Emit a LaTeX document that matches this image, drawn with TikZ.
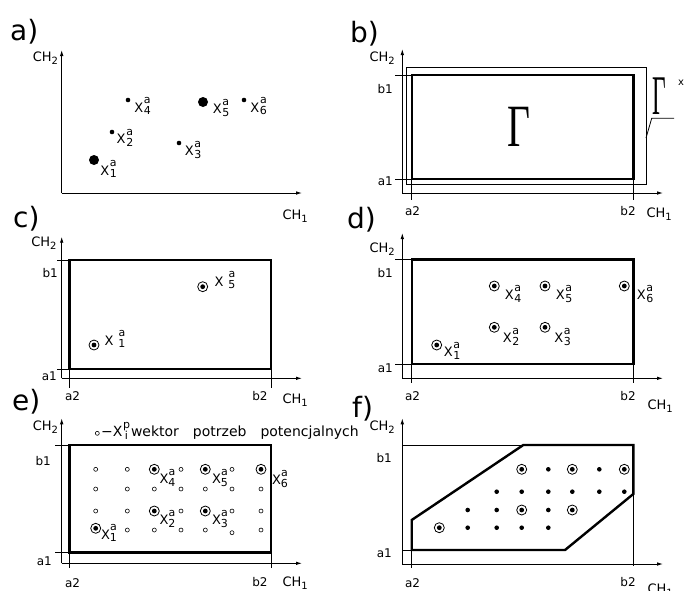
\documentclass[tikz,border=0pt]{standalone}
\usepackage{fontspec}
\setmainfont{DejaVu Sans}
\newfontfamily\grfont{Liberation Serif}
\usetikzlibrary{arrows.meta}
\newcommand{\lowsub}[1]{\raisebox{-3pt}{\fontsize{10}{10}\selectfont #1}}
\newcommand{\stk}[2]{\raisebox{2pt}{\fontsize{11}{9}\selectfont\begin{tabular}{@{}c@{}}#1\\#2\end{tabular}}}
\newcommand{\xa}[2][0.6pt]{X\kern#1\stk{a}{#2}}
\begin{document}
\begin{tikzpicture}[x=1pt,y=-1pt,
  txt/.style={font=\fontsize{13}{13}\selectfont, inner sep=0},
  small/.style={font=\fontsize{12}{12}\selectfont, inner sep=0},
  plab/.style={font=\fontsize{28}{28}\selectfont, inner sep=0, anchor=base west},
  axis/.style={line width=0.9pt, -{Latex[length=6pt,width=3.6pt]}},
  thinl/.style={line width=0.8pt},
  thickl/.style={line width=2.4pt},
  bigdot/.style={circle, fill=black, inner sep=0, minimum size=10pt},
  smalldot/.style={circle, fill=black, inner sep=0, minimum size=4.6pt},
  cdot/.style={circle, draw, line width=0.8pt, inner sep=0, minimum size=10pt,
    path picture={\fill[black] (path picture bounding box.center) circle (2.4pt);}},
  pdot/.style={circle, draw, line width=0.6pt, inner sep=0, minimum size=4pt},
]
\useasboundingbox (0,0) rectangle (684,590);

% ---------- a ----------
\node[plab] (aL) at (10,40) {a)};
\coordinate (aO) at (61.7,193);
\coordinate (aY) at (61.7,50);
\coordinate (aX) at (302,193);
\draw[axis] (aO) -- (aY);
\draw[axis] (aO) -- (aX);
\node[txt, anchor=base east] (aCH2) at (58.3,61.7) {CH\lowsub{2}};
\node[txt, anchor=base east] (aCH1) at (308,219) {CH\lowsub{1}};
\node[bigdot] (aP1) at (94,160) {};
\node[smalldot] (aP2) at (112,132) {};
\node[smalldot] (aP3) at (179,143) {};
\node[smalldot] (aP4) at (128,100) {};
\node[bigdot] (aP5) at (203,102) {};
\node[smalldot] (aP6) at (244,100) {};
\node[txt] (aT1) at (108.5,170.5) {\xa{1}};
\node[txt] (aT2) at (125,139) {\xa{2}};
\node[txt] (aT3) at (193,151) {\xa{3}};
\node[txt] (aT4) at (142.5,107.5) {\xa{4}};
\node[txt] (aT5) at (221,109) {\xa{5}};
\node[txt] (aT6) at (258.7,107.5) {\xa{6}};

% ---------- b ----------
\node[plab] (bL) at (350,42) {b)};
\coordinate (bO) at (402.3,193);
\coordinate (bY) at (402.3,49);
\coordinate (bX) at (663,193);
\draw[axis] (bO) -- (bY);
\draw[axis] (bO) -- (bX);
\node[txt, anchor=base east] (bCH2) at (395,61.5) {CH\lowsub{2}};
\node[txt, anchor=base east] (bCH1) at (672,217) {CH\lowsub{1}};
\draw[thinl] (406.7,67.7) rectangle (646,184);
\draw[thinl] (395,75) -- (411.7,75);
\draw[thinl] (395,179) -- (411.7,179);
\draw[thinl] (411.7,179) -- (411.7,200);
\draw[thinl] (633.3,179) -- (633.3,200);
\draw[thickl] (411.7,75) rectangle (633.3,179);
\node[small, anchor=base east] (bb1) at (393,93) {b1};
\node[small, anchor=base east] (ba1) at (393,185) {a1};
\node[small, anchor=base] (ba2) at (412.5,215) {a2};
\node[small, anchor=base] (bb2) at (628,215) {b2};
\node[inner sep=0] (bG) at (518.5,127) {\grfont\fontsize{60}{60}\selectfont\scalebox{0.66}[1]{Γ}};
\node[inner sep=0] (bGx) at (659.5,96.5) {\grfont\fontsize{56}{56}\selectfont\scalebox{0.42}[1]{Γ}};
\node[inner sep=0, font=\fontsize{10}{10}\selectfont] (bGs) at (681,83) {x};
\coordinate (bg1) at (674,118.3);
\coordinate (bg2) at (651.7,118.3);
\coordinate (bg3) at (646,138);
\draw[thinl] (bg1) -- (bg2) -- (bg3);

% ---------- c ----------
\node[plab] (cL) at (13,227) {c)};
\coordinate (cO) at (61.7,378.3);
\coordinate (cY) at (61.7,236.7);
\coordinate (cX) at (302,378.3);
\draw[axis] (cO) -- (cY);
\draw[axis] (cO) -- (cX);
\node[txt, anchor=base east] (cCH2) at (56.7,246) {CH\lowsub{2}};
\node[txt, anchor=base east] (cCH1) at (308,403) {CH\lowsub{1}};
\draw[thinl] (57,260) -- (69.3,260);
\draw[thinl] (57,369) -- (69.3,369);
\draw[thinl] (69.3,369) -- (69.3,388);
\draw[thinl] (271,369) -- (271,388);
\draw[thickl] (69.3,260) rectangle (271,369);
\node[small, anchor=base east] (cb1) at (58,277) {b1};
\node[small, anchor=base east] (ca1) at (57,380) {a1};
\node[small, anchor=base] (ca2) at (72.5,400) {a2};
\node[small, anchor=base] (cb2) at (260,400) {b2};
\node[cdot] (cP5) at (202.7,286.7) {};
\node[cdot] (cP1) at (94,345) {};
\node[txt] (cT5) at (225,281.5) {\xa[5pt]{5}};
\node[txt] (cT1) at (115,340.5) {\xa[5pt]{1}};

% ---------- d ----------
\node[plab] (dL) at (347,228) {d)};
\coordinate (dO) at (402.3,378.3);
\coordinate (dY) at (402.3,233);
\coordinate (dX) at (663,378.3);
\draw[axis] (dO) -- (dY);
\draw[axis] (dO) -- (dX);
\node[txt, anchor=base east] (dCH2) at (395,252.3) {CH\lowsub{2}};
\node[txt, anchor=base east] (dCH1) at (673,409) {CH\lowsub{1}};
\draw[thinl] (395,259.3) -- (411.7,259.3);
\draw[thinl] (395,364) -- (411.7,364);
\draw[thinl] (411.7,364) -- (411.7,383);
\draw[thinl] (633.3,364) -- (633.3,383);
\draw[thickl] (411.7,259.3) rectangle (633.3,364);
\node[small, anchor=base east] (db1) at (393,277) {b1};
\node[small, anchor=base east] (da1) at (393,372) {a1};
\node[small, anchor=base] (da2) at (412.5,400) {a2};
\node[small, anchor=base] (db2) at (628,400) {b2};
\node[cdot] (dP1) at (436.7,345) {};
\node[cdot] (dP2) at (494.3,327.3) {};
\node[cdot] (dP3) at (545,327.3) {};
\node[cdot] (dP4) at (494.3,286) {};
\node[cdot] (dP5) at (545,286) {};
\node[cdot] (dP6) at (624.3,286) {};
\node[txt] (dT1) at (452,352) {\xa{1}};
\node[txt] (dT2) at (511,338) {\xa{2}};
\node[txt] (dT3) at (562.5,338) {\xa{3}};
\node[txt] (dT4) at (513,295) {\xa{4}};
\node[txt] (dT5) at (564,295) {\xa{5}};
\node[txt] (dT6) at (645,295) {\xa{6}};

% ---------- e ----------
\node[plab] (eL) at (12,410) {e)};
\coordinate (eO) at (61.7,563.3);
\coordinate (eY) at (61.7,418.3);
\coordinate (eX) at (302,563.3);
\draw[axis] (eO) -- (eY);
\draw[axis] (eO) -- (eX);
\node[txt, anchor=base east] (eCH2) at (58.3,430) {CH\lowsub{2}};
\node[txt, anchor=base east] (eCH1) at (308,586) {CH\lowsub{1}};
\draw[thinl] (55,445) -- (69.3,445);
\draw[thinl] (55,552.3) -- (69.3,552.3);
\draw[thinl] (69.3,552.3) -- (69.3,568);
\draw[thinl] (271,552.3) -- (271,568);
\draw[thickl] (69.3,445) rectangle (271,552.3);
\node[small, anchor=base east] (eb1) at (51,465) {b1};
\node[small, anchor=base east] (ea1) at (52,565) {a1};
\node[small, anchor=base] (ea2) at (72.5,587) {a2};
\node[small, anchor=base] (eb2) at (260,586) {b2};
\node[pdot] (eLc) at (97.3,433.3) {};
\node[inner sep=0, anchor=base west, font=\fontsize{14}{14}\selectfont] (eLt) at (101,436.7)
  {−X\kern0.5pt\stk{p}{i}\kern1pt wektor\hspace{14pt}potrzeb\hspace{14pt}potencjalnych};
\foreach \px/\py [count=\i] in {95.7/469.3,127.3/469.3,181/469.3,232/469.3,
  95.7/489,127.3/489,154.3/489,181/489,205.3/489,232/489,261/489,
  95.7/511,127.3/511,181/511,232/511,261/511,
  127.3/530,154.3/530,181/530,205.3/530,232/532.7,261/530}
  \node[pdot] (ep\i) at (\px,\py) {};
\node[cdot] (eP1) at (95.7,528.3) {};
\node[cdot] (eP2) at (154.3,511) {};
\node[cdot] (eP3) at (205.3,511) {};
\node[cdot] (eP4) at (154.3,469.3) {};
\node[cdot] (eP5) at (205.3,469.3) {};
\node[cdot] (eP6) at (261,469.3) {};
\node[txt] (eT1) at (109,534.5) {\xa[0pt]{1}};
\node[txt] (eT2) at (167.5,520) {\xa[0pt]{2}};
\node[txt] (eT3) at (220,520) {\xa[0pt]{3}};
\node[txt] (eT4) at (167.5,479) {\xa[0pt]{4}};
\node[txt] (eT5) at (220,479) {\xa[0pt]{5}};
\node[txt] (eT6) at (280,480) {\xa[0pt]{6}};

% ---------- f ----------
\node[plab] (fL) at (352,417) {f)};
\coordinate (fO) at (402.3,564);
\coordinate (fY) at (402.3,418.3);
\coordinate (fX) at (663,564);
\draw[axis] (fO) -- (fY);
\draw[axis] (fO) -- (fX);
\node[txt, anchor=base east] (fCH2) at (395,430) {CH\lowsub{2}};
\node[txt, anchor=base east] (fCH1) at (673,593) {CH\lowsub{1}};
\draw[thinl] (402.3,445) -- (633.3,445) -- (633.3,566);
\draw[thinl] (402.3,550) -- (411.7,550);
\draw[thinl] (411.7,550) -- (411.7,568);
\draw[thickl] (411.7,550) -- (565,550) -- (633.3,494) -- (633.3,445) -- (523.3,445) -- (411.7,520) -- cycle;
\node[small, anchor=base east] (fb1) at (392,462) {b1};
\node[small, anchor=base east] (fa1) at (392,557) {a1};
\node[small, anchor=base] (fa2) at (412.5,587) {a2};
\node[small, anchor=base] (fb2) at (628,586) {b2};
\foreach \px/\py [count=\i] in {548.3/469.3,599.3/469.3,
  496.7/491.7,521.7/491.7,548.3/491.7,572.3/491.7,599.3/491.7,624.3/491.7,
  467.7/510,496.7/510,548.3/510,
  467.7/527.7,496.7/527.7,521.7/527.7,548.3/527.7}
  \node[smalldot] (fp\i) at (\px,\py) {};
\node[cdot] (fc1) at (521.7,469.3) {};
\node[cdot] (fc2) at (572.3,469.3) {};
\node[cdot] (fc3) at (624.3,469.3) {};
\node[cdot] (fc4) at (521.7,510) {};
\node[cdot] (fc5) at (572.3,510) {};
\node[cdot] (fc6) at (439.3,527.7) {};
\end{tikzpicture}
\end{document}
